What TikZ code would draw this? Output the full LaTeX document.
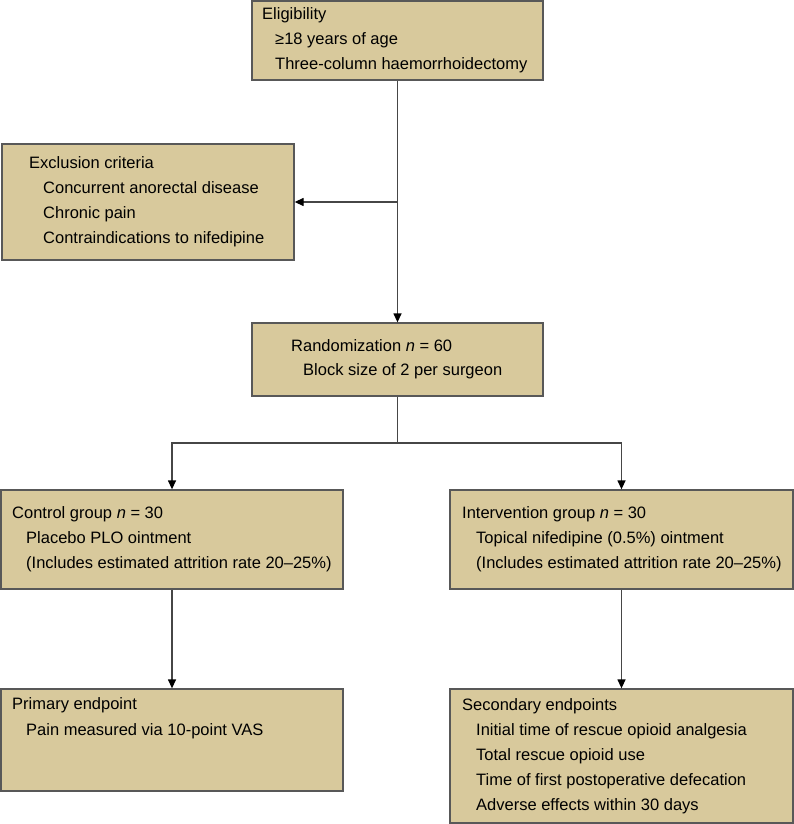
\documentclass[tikz,border=0pt]{standalone}
\usepackage{fontspec}
\setmainfont{Liberation Sans}
\usetikzlibrary{arrows.meta,fit}
\definecolor{boxfill}{RGB}{216,201,156}
\definecolor{boxline}{RGB}{88,88,88}
\definecolor{connc}{RGB}{70,70,70}
\begin{document}
\begin{tikzpicture}[x=1pt,y=-1pt,
  box/.style={draw=boxline, fill=boxfill, line width=1.3pt, rectangle, inner sep=0pt},
  txt/.style={anchor=base west, inner sep=0pt, font=\fontsize{16.5}{20}\selectfont},
  conn/.style={draw=connc, line width=1.3pt},
  arr/.style={conn, -{Triangle[length=9pt,width=8pt,color=black]}}
]
\useasboundingbox (0,0) rectangle (794,824);

% boxes
\node[box, fit={(252,1) (543,80)}] (elig) {};
\node[box, fit={(2,144) (294,260)}] (excl) {};
\node[box, fit={(252,323) (543,396)}] (rand) {};
\node[box, fit={(1,490) (343,589)}] (ctrl) {};
\node[box, fit={(450,490) (793,589)}] (intv) {};
\node[box, fit={(1,689) (343,791)}] (prim) {};
\node[box, fit={(450,689) (793,823)}] (sec) {};

% texts
\node[txt] (t1) at (262,20) {Eligibility};
\node[txt] (t2) at (275,45) {≥18 years of age};
\node[txt] (t3) at (275,70) {Three-column haemorrhoidectomy};

\node[txt] (t4) at (29,168) {Exclusion criteria};
\node[txt] (t5) at (43,193) {Concurrent anorectal disease};
\node[txt] (t6) at (43,218) {Chronic pain};
\node[txt] (t7) at (43,243) {Contraindications to nifedipine};

\node[txt] (t8) at (291,351) {Randomization {\itshape n} = 60};
\node[txt] (t9) at (303,375) {Block size of 2 per surgeon};

\node[txt] (t10) at (12,518) {Control group {\itshape n} = 30};
\node[txt] (t11) at (26,543) {Placebo PLO ointment};
\node[txt] (t12) at (26,568) {(Includes estimated attrition rate 20–25\%)};

\node[txt] (t13) at (462,518) {Intervention group {\itshape n} = 30};
\node[txt] (t14) at (476,543) {Topical nifedipine (0.5\%) ointment};
\node[txt] (t15) at (476,568) {(Includes estimated attrition rate 20–25\%)};

\node[txt] (t16) at (12,709) {Primary endpoint};
\node[txt] (t17) at (26,735) {Pain measured via 10-point VAS};

\node[txt] (t18) at (462,710) {Secondary endpoints};
\node[txt] (t19) at (476,735) {Initial time of rescue opioid analgesia};
\node[txt] (t20) at (476,760) {Total rescue opioid use};
\node[txt] (t21) at (476,785) {Time of first postoperative defecation};
\node[txt] (t22) at (476,810) {Adverse effects within 30 days};

% connectors
\coordinate (j1) at (397.5,202);
\coordinate (br) at (397.5,443);
\draw[arr] (elig.south) -- (rand.north);
\draw[arr] (j1) -- (excl.east);
\draw[conn] (rand.south) -- (br);
\draw[arr] (br) -| (ctrl.north);
\draw[arr] (br) -| (intv.north);
\draw[arr] (ctrl.south) -- (prim.north);
\draw[arr] (intv.south) -- (sec.north);
\end{tikzpicture}
\end{document}
